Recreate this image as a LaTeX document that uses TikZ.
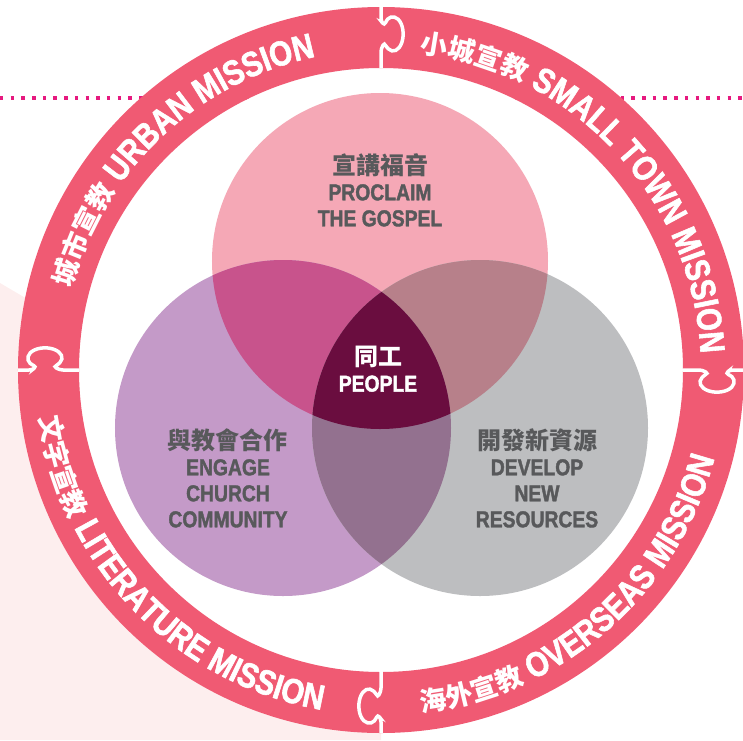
\documentclass[tikz,border=0pt]{standalone}
\usepackage{fontspec}
\usetikzlibrary{decorations.text}

\newfontfamily\cjk{Noto Sans CJK TC}
\newfontfamily\cond{Liberation Sans}[FakeStretch=0.84, FakeBold=1.6, BoldFont={Liberation Sans Bold}, BoldFeatures={FakeStretch=0.84, FakeBold=1.6}]

\definecolor{ringred}{HTML}{F05A73}
\definecolor{pinkc}{HTML}{F5A8B6}
\definecolor{purplec}{HTML}{C49AC8}
\definecolor{grayc}{HTML}{BDBEC0}
\definecolor{pinkpurple}{HTML}{C8538C}
\definecolor{pinkgray}{HTML}{B7808A}
\definecolor{purplegray}{HTML}{93718F}
\definecolor{centrec}{HTML}{6A0D3F}
\definecolor{pale}{HTML}{FDEEEE}
\definecolor{dotc}{HTML}{E6197F}
\definecolor{textgray}{HTML}{58595B}

\newcommand{\ringcjk}{\cjk\bfseries\fontsize{27}{27}\selectfont\color{white}}
\newcommand{\ringlat}{\cond\bfseries\fontsize{35}{35}\selectfont\color{white}}
\newcommand{\boxcjk}{\cjk\bfseries\fontsize{24}{26}\selectfont}

\tikzset{
  circletext/.style={align=center, text=textgray, font=\cond\bfseries\fontsize{23}{26}\selectfont},
  joint/.style={white, line width=3.5pt, rounded corners=3pt},
}

\begin{document}
\begin{tikzpicture}[x=1pt,y=1pt]
  \useasboundingbox (-381,-370) rectangle (362,370);

  % pale band on the left
  \fill[pale] (-381,87) -- (0,-137) -- (0,-370) -- (-381,-370) -- cycle;

  % dotted line
  \draw[dotc, line width=3.5pt, dash pattern=on 3.5pt off 7.2pt] (-381,272) -- (362,272);

  % Draw the ring
  \fill[white] (0,0) circle (302);
  \fill[ringred, even odd rule] (0,0) circle (363) (0,0) circle (302);

  % puzzle joints
  \foreach \a in {90,0,-90,180}{
    \begin{scope}[rotate=\a-90]
      \draw[joint] (0,363) -- (0,349) -- (3.5,344.5)
        arc[start angle=150, end angle=-150, x radius=10, y radius=17] -- (0,321) -- (0,302);
    \end{scope}
  }

  % ring texts
  \path[decorate, decoration={text along path, text align=center,
    text={|\ringcjk|城市宣教|\ringlat| URBAN MISSION}}]
    (183.5:320) arc[start angle=183.5, end angle=83.5, radius=320];
  \path[decorate, decoration={text along path, text align=center,
    text={|\ringcjk|小城宣教|\ringlat| SMALL TOWN MISSION}}]
    (93:320) arc[start angle=93, end angle=-7, radius=320];
  \path[decorate, decoration={text along path, text align=center,
    text={|\ringcjk|海外宣教|\ringlat| OVERSEAS MISSION}}]
    (-99:345) arc[start angle=-99, end angle=1, radius=345];
  \path[decorate, decoration={text along path, text align=center,
    text={|\ringcjk|文字宣教|\ringlat| LITERATURE MISSION}}]
    (174:345) arc[start angle=174, end angle=274, radius=345];

  % three circles
  \coordinate (topc) at (-1,109);
  \coordinate (leftc) at (-98,-58);
  \coordinate (rightc) at (99,-58);
  \fill[pinkc] (topc) circle (168);
  \fill[purplec] (leftc) circle (168);
  \fill[grayc] (rightc) circle (168);

  % overlaps
  \begin{scope}
    \clip (topc) circle (168);
    \fill[pinkpurple] (leftc) circle (168);
    \fill[pinkgray] (rightc) circle (168);
  \end{scope}
  \begin{scope}
    \clip (leftc) circle (168);
    \fill[purplegray] (rightc) circle (168);
    \clip (rightc) circle (168);
    \fill[centrec] (topc) circle (168);
  \end{scope}

  % labels
  \node[circletext] (proclaim) at (-1,180) {{\boxcjk 宣講福音}\\PROCLAIM\\THE GOSPEL};
  \node[circletext] (engage) at (-153,-108) {{\boxcjk 與教會合作}\\ENGAGE\\CHURCH\\COMMUNITY};
  \node[circletext] (develop) at (156,-108) {{\boxcjk 開發新資源}\\DEVELOP\\NEW\\RESOURCES};
  \node[circletext, text=white] (people) at (-3,1) {{\boxcjk 同工}\\PEOPLE};

\end{tikzpicture}
\end{document}
